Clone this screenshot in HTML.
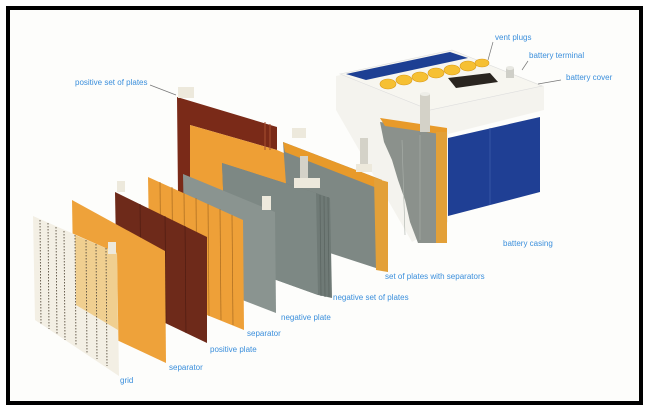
<!DOCTYPE html>
<html><head><meta charset="utf-8"><style>
html,body{margin:0;padding:0;background:#fff;}
svg{display:block;}
text{font-family:"Liberation Sans",sans-serif;font-size:8px;fill:#3b8fdc;}
</style></head><body>
<svg width="649" height="412" viewBox="0 0 649 412" xmlns="http://www.w3.org/2000/svg">
<rect x="0" y="0" width="649" height="412" fill="#fff"/>
<rect x="8" y="8" width="633" height="395" fill="#fdfdfb" stroke="#000" stroke-width="4"/>

<!-- battery -->
<polygon points="336,76 452,50 544,86 544,110 448,134 448,222 412,242 336,110" fill="#f4f3ee"/>
<polygon points="340,74 452,50 542,86 430,110" fill="#f7f6f0" stroke="#ddd" stroke-width="0.6"/>
<polygon points="346,74 450,52 468,58 366,80" fill="#1d3f93"/>
<polygon points="448,138 540,117 540,192 448,216" fill="#1f3f94"/>
<line x1="490" y1="128" x2="490" y2="205" stroke="#3a5aaa" stroke-width="0.8"/>
<!-- vent plugs -->
<g fill="#f6c033" stroke="#d99a1a" stroke-width="0.6">
<ellipse cx="388" cy="84" rx="8" ry="5"/><ellipse cx="404" cy="80" rx="8" ry="5"/>
<ellipse cx="420" cy="77" rx="8" ry="5"/><ellipse cx="436" cy="73" rx="8" ry="5"/>
<ellipse cx="452" cy="70" rx="8" ry="5"/><ellipse cx="468" cy="66" rx="8" ry="5"/>
<ellipse cx="482" cy="63" rx="7" ry="4"/>
</g>
<polygon points="448,78 490,73 498,82 456,88" fill="#2a2520"/>
<rect x="506" y="68" width="8" height="10" fill="#cfcfc8"/>
<ellipse cx="510" cy="68" rx="4" ry="2" fill="#e8e8e2"/>
<!-- cutaway -->
<polygon points="380,122 447,132 447,243 418,243 410,222 405,200 398,180 392,160 384,142" fill="#8b918c"/>
<polygon points="380,118 447,128 447,135 385,126" fill="#e89a2a"/>
<rect x="436" y="132" width="11" height="111" fill="#e3a038"/>
<line x1="402" y1="140" x2="405" y2="235" stroke="#aab0aa" stroke-width="0.6"/>
<line x1="420" y1="135" x2="420" y2="240" stroke="#aab0aa" stroke-width="0.6"/>
<rect x="420" y="94" width="10" height="38" fill="#d4d2c8"/>
<ellipse cx="425" cy="94" rx="5" ry="2" fill="#eeeee8"/>

<!-- positive set of plates (back pack) -->
<polygon points="177,97 277,127 277,150 190,125 190,200 178,195" fill="#7a2a18"/>
<polygon points="190,125 277,150 300,160 300,230 190,200" fill="#ee9f35"/>
<line x1="265" y1="122" x2="265" y2="150" stroke="#a85030" stroke-width="1"/>
<line x1="270" y1="124" x2="270" y2="150" stroke="#a85030" stroke-width="1"/>
<rect x="178" y="87" width="16" height="11" fill="#ede9dc"/>
<!-- set with separators -->
<polygon points="283,142 382,180 388,272 290,240" fill="#7e8884"/>
<polygon points="283,142 382,180 382,190 285,152" fill="#e89a2a"/>
<polygon points="374,178 388,182 388,272 376,270" fill="#e3a038"/>
<rect x="292" y="128" width="14" height="10" fill="#ede9dc"/>
<rect x="360" y="138" width="8" height="30" fill="#d4d2c8"/>
<rect x="356" y="164" width="16" height="8" fill="#ede9dc"/>
<!-- negative set of plates -->
<polygon points="222,163 316,193 330,198 332,298 318,295 226,262" fill="#6f7a76"/>
<polygon points="222,163 316,193 318,295 226,262" fill="#7d8884"/>
<g stroke="#5c6662" stroke-width="0.8"><line x1="320" y1="195" x2="321" y2="296"/><line x1="324" y1="196" x2="325" y2="297"/><line x1="328" y1="197" x2="329" y2="297"/></g>
<rect x="300" y="156" width="8" height="26" fill="#d4d2c8"/>
<rect x="294" y="178" width="26" height="10" fill="#ede9dc"/>
<!-- negative plate -->
<polygon points="183,174 275,212 276,313 185,278" fill="#8a9490"/>
<rect x="262" y="196" width="9" height="14" fill="#ede9dc"/>
<!-- striped separator -->
<polygon points="148,177 243,220 244,330 150,292" fill="#eea038"/>
<g stroke="#a86a20" stroke-width="0.7">
<line x1="160" y1="182" x2="161" y2="297"/><line x1="172" y1="187" x2="173" y2="302"/><line x1="184" y1="193" x2="185" y2="306"/><line x1="196" y1="198" x2="197" y2="311"/><line x1="208" y1="204" x2="209" y2="316"/><line x1="220" y1="209" x2="221" y2="320"/><line x1="232" y1="215" x2="233" y2="325"/></g>
<!-- brown plate -->
<polygon points="115,192 207,237 207,343 117,300" fill="#6e2a1a"/>
<g stroke="#4a1a10" stroke-width="0.6"><line x1="140" y1="204" x2="141" y2="312"/><line x1="165" y1="216" x2="166" y2="323"/><line x1="185" y1="226" x2="186" y2="333"/></g>
<rect x="117" y="181" width="8" height="11" fill="#ede9dc"/>
<!-- separator -->
<polygon points="72,200 165,251 166,363 74,320" fill="#eea23a"/>
<!-- grid -->
<polygon points="33,216 117,253 119,376 35,320" fill="#f3efe4"/>
<polygon points="75,235 117,253 118,330 76,305" fill="#efc77a" opacity="0.8"/>
<g stroke="#5a5040" stroke-width="0.9" stroke-dasharray="1.5,1.5">
<line x1="40" y1="220" x2="41" y2="324"/><line x1="48" y1="223" x2="49" y2="329"/><line x1="56" y1="227" x2="57" y2="334"/><line x1="64" y1="231" x2="65" y2="340"/><line x1="75" y1="235" x2="76" y2="346"/><line x1="86" y1="240" x2="87" y2="353"/><line x1="96" y1="244" x2="97" y2="359"/><line x1="106" y1="248" x2="107" y2="366"/></g>
<rect x="108" y="242" width="8" height="12" fill="#ede9dc"/>

<!-- leader lines -->
<g stroke="#777" stroke-width="0.7">
<line x1="150" y1="85" x2="176" y2="95"/>
<line x1="493" y1="42" x2="488" y2="60"/>
<line x1="528" y1="61" x2="522" y2="70"/>
<line x1="561" y1="80" x2="538" y2="84"/>
</g>
<!-- labels -->
<text x="75" y="85">positive set of plates</text>
<text x="495" y="40">vent plugs</text>
<text x="529" y="58">battery terminal</text>
<text x="566" y="80">battery cover</text>
<text x="503" y="246">battery casing</text>
<text x="385" y="279">set of plates with separators</text>
<text x="333" y="300">negative set of plates</text>
<text x="281" y="320">negative plate</text>
<text x="247" y="336">separator</text>
<text x="210" y="352">positive plate</text>
<text x="169" y="370">separator</text>
<text x="120" y="383">grid</text>
</svg>
</body></html>
